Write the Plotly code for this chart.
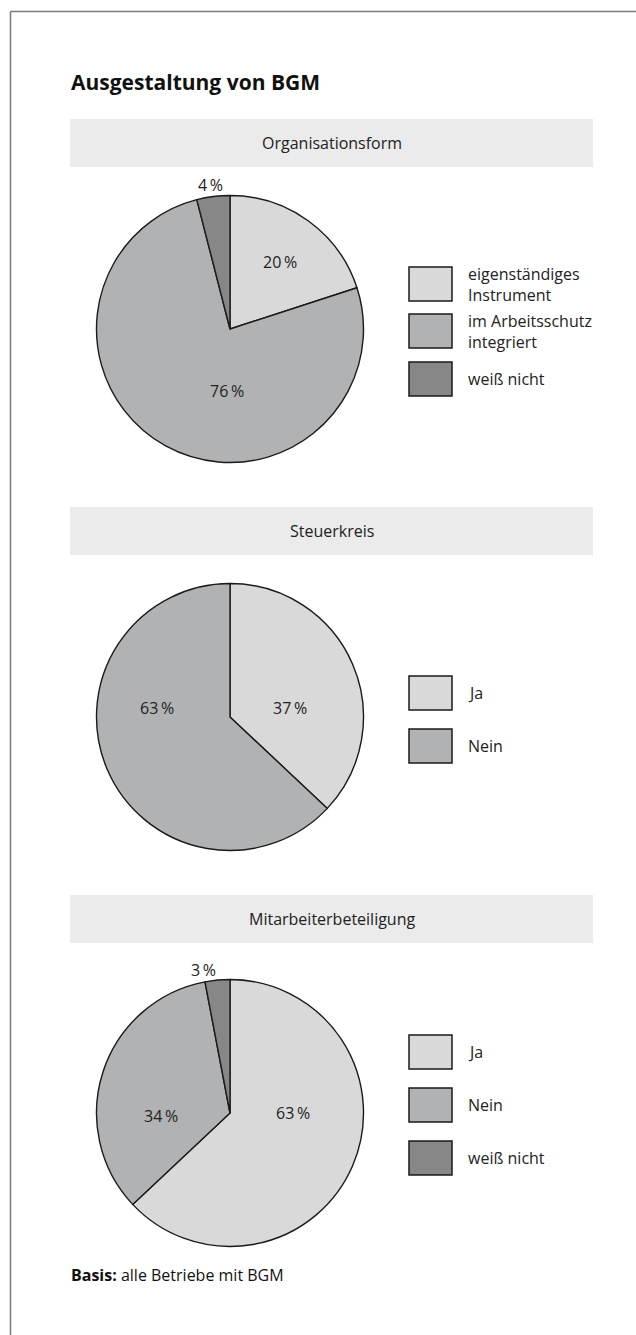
import plotly.graph_objects as go

# ---- data ----
titles = ["Organisationsform", "Steuerkreis", "Mitarbeiterbeteiligung"]

org_labels = ["eigenständiges<br>Instrument", "im Arbeitsschutz<br>integriert", "weiß nicht"]
org_values = [20, 76, 4]

steuer_labels = ["Ja", "Nein"]
steuer_values = [37, 63]

mitarb_labels = ["Ja", "Nein", "weiß nicht"]
mitarb_values = [63, 34, 3]

# ---- layout constants (pixels) ----
W, H = 636, 1335
FONT = "Open Sans"
TEXT = "#222222"
SLICE_COLORS = ["#d9d9d9", "#b1b2b3", "#878787"]
R = 133.5
PIE_CX = 230

panels = [
    dict(labels=org_labels, values=org_values, band=119, cy=329,
         legend_tops=[267, 314, 362],
         label_offsets=[(50, -67), (-3, 62), (-20, -144)]),
    dict(labels=steuer_labels, values=steuer_values, band=507, cy=717,
         legend_tops=[676, 729],
         label_offsets=[(60, -9), (-73, -9)]),
    dict(labels=mitarb_labels, values=mitarb_values, band=895, cy=1113,
         legend_tops=[1035, 1088, 1141],
         label_offsets=[(63, 0), (-69, 3), (-27, -143)]),
]


def px(x):
    return x / W


def py(y):
    return 1 - y / H


fig = go.Figure()
shapes = []
annotations = []

# frame lines (top and left)
shapes.append(dict(type="line", xref="paper", yref="paper",
                   x0=px(10.5), x1=1, y0=py(11.5), y1=py(11.5),
                   line=dict(color="#7a7a7a", width=1.5)))
shapes.append(dict(type="line", xref="paper", yref="paper",
                   x0=px(10.5), x1=px(10.5), y0=py(11.5), y1=0,
                   line=dict(color="#7a7a7a", width=1.5)))

annotations.append(dict(text="<b>Ausgestaltung von BGM</b>", xref="paper", yref="paper",
                        x=px(69), y=py(82), xanchor="left", yanchor="middle",
                        showarrow=False, font=dict(family=FONT, size=21, color="#111111")))

for i, p in enumerate(panels):
    n = len(p["values"])
    colors = SLICE_COLORS[:n]
    cy = p["cy"]
    fig.add_trace(go.Pie(
        values=p["values"],
        labels=[l.replace("<br>", " ") for l in p["labels"]],
        sort=False, direction="clockwise", rotation=0,
        marker=dict(colors=colors, line=dict(color="#1a1a1a", width=1.4)),
        textinfo="none", hoverinfo="label+percent", showlegend=False,
        domain=dict(x=[px(PIE_CX - R), px(PIE_CX + R)],
                    y=[py(cy + R), py(cy - R)]),
    ))

    # header band
    b = p["band"]
    shapes.append(dict(type="rect", xref="paper", yref="paper",
                       x0=px(70), x1=px(593), y0=py(b + 48), y1=py(b),
                       fillcolor="#ebebeb", line=dict(width=0), layer="below"))
    annotations.append(dict(text=titles[i], xref="paper", yref="paper",
                            x=px(331.5), y=py(b + 24), xanchor="center", yanchor="middle",
                            showarrow=False, font=dict(family=FONT, size=16, color=TEXT)))

    # value labels
    for v, (dx, dy) in zip(p["values"], p["label_offsets"]):
        annotations.append(dict(text=f"{v}\u2009%", xref="paper", yref="paper",
                                x=px(PIE_CX + dx), y=py(cy + dy),
                                xanchor="center", yanchor="middle", showarrow=False,
                                font=dict(family=FONT, size=16, color=TEXT)))

    # legend boxes and texts
    for lab, col, top in zip(p["labels"], colors, p["legend_tops"]):
        shapes.append(dict(type="rect", xref="paper", yref="paper",
                           x0=px(409), x1=px(452), y0=py(top + 34), y1=py(top),
                           fillcolor=col, line=dict(color="#1a1a1a", width=1.5)))
        annotations.append(dict(text=lab, xref="paper", yref="paper",
                                x=px(466), y=py(top + 17), xanchor="left", yanchor="middle",
                                align="left", showarrow=False,
                                font=dict(family=FONT, size=16, color=TEXT)))

annotations.append(dict(text="<b>Basis:</b> alle Betriebe mit BGM", xref="paper", yref="paper",
                        x=px(69), y=py(1275), xanchor="left", yanchor="middle",
                        showarrow=False, font=dict(family=FONT, size=16, color="#111111")))

fig.update_layout(
    width=W, height=H,
    margin=dict(l=0, r=0, t=0, b=0),
    paper_bgcolor="white", plot_bgcolor="white",
    shapes=shapes, annotations=annotations,
    font=dict(family=FONT),
)

fig.write_html("out.html")
